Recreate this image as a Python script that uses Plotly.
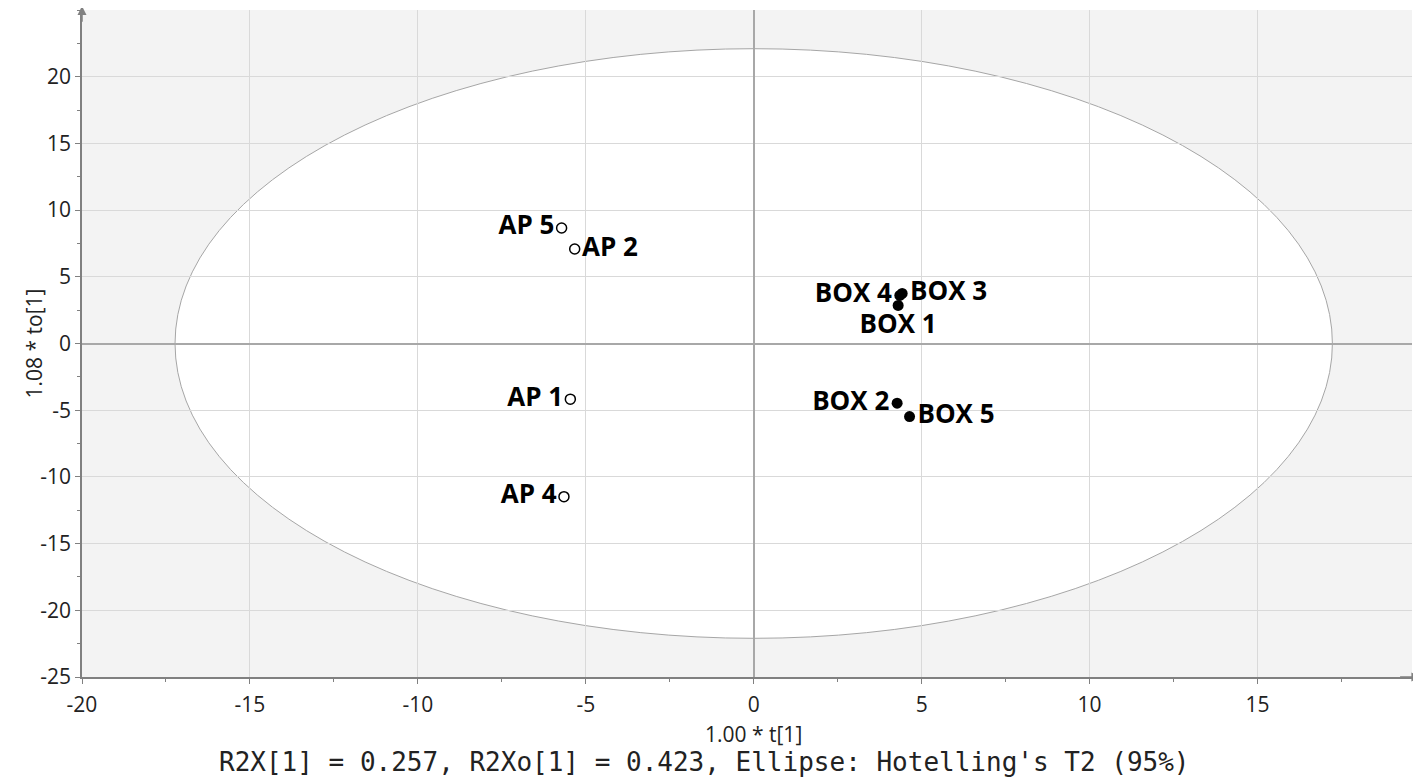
import plotly.graph_objects as go

# Scores
ap_names = ["AP 5", "AP 2", "AP 1", "AP 4"]
ap_t = [-5.72, -5.33, -5.46, -5.65]
ap_to = [8.66, 7.08, -4.17, -11.48]
ap_pos = ["middle left", "middle right", "middle left", "middle left"]

box_names = ["BOX 4", "BOX 3", "BOX 1", "BOX 2", "BOX 5"]
box_t = [4.35, 4.42, 4.30, 4.27, 4.64]
box_to = [3.60, 3.75, 2.85, -4.47, -5.48]
box_pos = ["middle left", "middle right", "bottom center", "middle left", "middle right"]

# Hotelling's T2 ellipse semi-axes
ellipse_rx = 17.23
ellipse_ry = 22.1

x_range = [-20, 19.6]
y_range = [-25, 25]
x_ticks = [-20, -15, -10, -5, 0, 5, 10, 15]
y_ticks = [-25, -20, -15, -10, -5, 0, 5, 10, 15, 20]

fig = go.Figure()

# Ellipse (white inside, grey outside via plot background)
fig.add_shape(type="circle", xref="x", yref="y",
              x0=-ellipse_rx, x1=ellipse_rx, y0=-ellipse_ry, y1=ellipse_ry,
              fillcolor="white", line=dict(color="#a6a6a6", width=1), layer="below")

label_font = dict(family="Open Sans", size=26, color="black", weight="bold")

fig.add_trace(go.Scatter(x=ap_t, y=ap_to, mode="markers+text", text=ap_names,
                         textposition=ap_pos, textfont=label_font,
                         marker=dict(symbol="circle-open", size=10, color="black", line=dict(width=1.5)),
                         showlegend=False, cliponaxis=False))
fig.add_trace(go.Scatter(x=box_t, y=box_to, mode="markers+text", text=box_names,
                         textposition=box_pos, textfont=label_font,
                         marker=dict(symbol="circle", size=11, color="black"),
                         showlegend=False, cliponaxis=False))

# Axis arrows
fig.add_annotation(x=x_range[1] + 0.25, y=y_range[0], ax=x_range[1] - 0.4, ay=y_range[0],
                   xref="x", yref="y", axref="x", ayref="y", text="", showarrow=True,
                   arrowhead=2, arrowsize=1.2, arrowwidth=1.5, arrowcolor="#808080")
fig.add_annotation(x=x_range[0], y=y_range[1] + 0.3, ax=x_range[0], ay=y_range[1] - 1,
                   xref="x", yref="y", axref="x", ayref="y", text="", showarrow=True,
                   arrowhead=2, arrowsize=1.2, arrowwidth=1.5, arrowcolor="#808080")

# Axis titles and footnote
fig.add_annotation(x=0, y=0, xref="x", yref="paper", yshift=-57, yanchor="middle",
                   text="1.00 * t[1]", showarrow=False,
                   font=dict(family="Open Sans", size=21, color="#222"))
fig.add_annotation(x=0.468, y=0, xref="paper", yref="paper", yshift=-85, yanchor="middle",
                   text="R2X[1] = 0.257, R2Xo[1] = 0.423, Ellipse: Hotelling's T2 (95%)",
                   showarrow=False, font=dict(family="DejaVu Sans Mono", size=26, color="#222"))
fig.add_annotation(x=0, y=0, xref="paper", yref="y", xshift=-49, xanchor="center", yanchor="middle",
                   text="1.08 * to[1]", textangle=-90, showarrow=False,
                   font=dict(family="Open Sans", size=21, color="#222"))

axis_common = dict(showgrid=True, gridcolor="#d9d9d9", gridwidth=1,
                   zeroline=True, zerolinecolor="#a8a8a8", zerolinewidth=2,
                   showline=True, linecolor="#808080", linewidth=1.5,
                   ticks="outside", ticklen=5, tickcolor="#808080", automargin=False,
                   tickfont=dict(family="Open Sans", size=21, color="#222"),
                   minor=dict(ticks="outside", ticklen=3, tickcolor="#808080", dtick=2.5, showgrid=False))

fig.update_xaxes(range=x_range, tickvals=x_ticks, ticktext=[str(v) for v in x_ticks],
                 ticklabelstandoff=3, **axis_common)
fig.update_yaxes(range=y_range, tickvals=y_ticks, ticktext=[str(v) for v in y_ticks], **axis_common)

# page body adds 8px margin, so the figure is shifted by that amount
fig.update_layout(width=1413, height=769, plot_bgcolor="#f3f3f3", paper_bgcolor="white",
                  margin=dict(l=74, r=9, t=2, b=100), showlegend=False)

fig.write_html("out.html")
